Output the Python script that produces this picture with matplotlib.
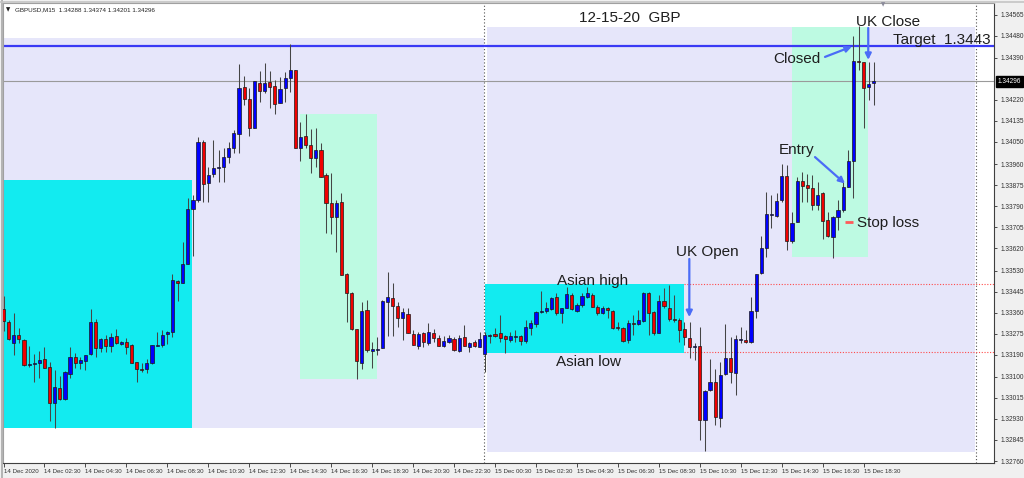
import numpy as np
import matplotlib.pyplot as plt
from matplotlib.patches import Rectangle

# GBPUSD M15 candles, 14 Dec 00:30 -> 15 Dec 18:30
open_ = [1.33373, 1.33322, 1.33236, 1.33271, 1.33249, 1.33149, 1.33151, 1.33158, 1.33172, 1.33140,
         1.32993, 1.33056, 1.33009, 1.33112, 1.33181, 1.33158, 1.33166, 1.33191, 1.33322, 1.33216,
         1.33252, 1.33226, 1.33265, 1.33234, 1.33242, 1.33229, 1.33159, 1.33133, 1.33133, 1.33155,
         1.33226, 1.33229, 1.33272, 1.33283, 1.33488, 1.33481, 1.33557, 1.33778, 1.33816, 1.34051,
         1.33883, 1.33919, 1.33946, 1.33949, 1.33991, 1.34025, 1.34082, 1.34273, 1.34225, 1.34108,
         1.34290, 1.34258, 1.34293, 1.34277, 1.34209, 1.34267, 1.34309, 1.34340, 1.34025, 1.34076,
         1.34037, 1.33987, 1.34017, 1.33917, 1.33803, 1.33747, 1.33806, 1.33516, 1.33439, 1.33293,
         1.33158, 1.33371, 1.33206, 1.33210, 1.33216, 1.33404, 1.33420, 1.33388, 1.33337, 1.33356,
         1.33274, 1.33225, 1.33276, 1.33238, 1.33278, 1.33256, 1.33225, 1.33240, 1.33253, 1.33206,
         1.33260, 1.33222, 1.33240, 1.33222, 1.33193, 1.33264, 1.33274, 1.33279, 1.33265, 1.33249,
         1.33261, 1.33265, 1.33246, 1.33299, 1.33314, 1.33361, 1.33367, 1.33373, 1.33422, 1.33357,
         1.33380, 1.33431, 1.33368, 1.33391, 1.33422, 1.33431, 1.33384, 1.33357, 1.33378, 1.33367,
         1.33302, 1.33297, 1.33249, 1.33317, 1.33313, 1.33327, 1.33441, 1.33364, 1.33279, 1.33408,
         1.33380, 1.33334, 1.33330, 1.33293, 1.33256, 1.33221, 1.33225, 1.32926, 1.33047, 1.33081,
         1.32933, 1.33112, 1.33175, 1.33117, 1.33249, 1.33249, 1.33240, 1.33368, 1.33519, 1.33620,
         1.33755, 1.33751, 1.33816, 1.33913, 1.33650, 1.33728, 1.33892, 1.33876, 1.33863, 1.33795,
         1.33843, 1.33735, 1.33667, 1.33748, 1.33775, 1.33869, 1.33974, 1.34378, 1.34372, 1.34271,
         1.34288]
high = [1.33427, 1.33330, 1.33360, 1.33297, 1.33253, 1.33225, 1.33191, 1.33205, 1.33222, 1.33162,
        1.33128, 1.33104, 1.33124, 1.33222, 1.33198, 1.33179, 1.33189, 1.33375, 1.33334, 1.33257,
        1.33270, 1.33276, 1.33293, 1.33246, 1.33256, 1.33233, 1.33160, 1.33158, 1.33172, 1.33231,
        1.33280, 1.33289, 1.33286, 1.33515, 1.33492, 1.33647, 1.33822, 1.33836, 1.34072, 1.34058,
        1.33950, 1.34058, 1.34018, 1.34025, 1.34049, 1.34099, 1.34366, 1.34317, 1.34267, 1.34297,
        1.34338, 1.34368, 1.34338, 1.34301, 1.34314, 1.34334, 1.34446, 1.34341, 1.34132, 1.34163,
        1.34101, 1.34107, 1.34045, 1.33924, 1.33924, 1.33816, 1.33845, 1.33519, 1.33445, 1.33294,
        1.33404, 1.33411, 1.33240, 1.33263, 1.33411, 1.33526, 1.33479, 1.33404, 1.33378, 1.33378,
        1.33290, 1.33283, 1.33283, 1.33317, 1.33293, 1.33270, 1.33265, 1.33270, 1.33263, 1.33270,
        1.33310, 1.33242, 1.33249, 1.33283, 1.33283, 1.33274, 1.33297, 1.33350, 1.33270, 1.33283,
        1.33290, 1.33270, 1.33330, 1.33330, 1.33368, 1.33449, 1.33404, 1.33424, 1.33438, 1.33379,
        1.33465, 1.33438, 1.33398, 1.33438, 1.33462, 1.33438, 1.33391, 1.33387, 1.33382, 1.33371,
        1.33323, 1.33303, 1.33330, 1.33350, 1.33371, 1.33445, 1.33445, 1.33365, 1.33431, 1.33458,
        1.33472, 1.33431, 1.33337, 1.33323, 1.33323, 1.33236, 1.33301, 1.33047, 1.33171, 1.33131,
        1.33162, 1.33313, 1.33263, 1.33270, 1.33301, 1.33290, 1.33424, 1.33518, 1.33670, 1.33849,
        1.33836, 1.33843, 1.33960, 1.33957, 1.33768, 1.33910, 1.33928, 1.33919, 1.33917, 1.33890,
        1.33847, 1.33768, 1.33749, 1.33816, 1.33890, 1.34018, 1.34480, 1.34519, 1.34374, 1.34375,
        1.34374]
low = [1.33287, 1.33249, 1.33189, 1.33238, 1.33144, 1.33141, 1.33078, 1.33097, 1.33135, 1.32923,
       1.32892, 1.33007, 1.33007, 1.33094, 1.33137, 1.33132, 1.33128, 1.33189, 1.33182, 1.33202,
       1.33202, 1.33202, 1.33233, 1.33229, 1.33191, 1.33155, 1.33081, 1.33119, 1.33115, 1.33154,
       1.33225, 1.33220, 1.33233, 1.33260, 1.33408, 1.33480, 1.33555, 1.33589, 1.33809, 1.33809,
       1.33809, 1.33910, 1.33890, 1.33890, 1.33964, 1.34004, 1.34004, 1.34200, 1.34076, 1.34107,
       1.34213, 1.34247, 1.34189, 1.34163, 1.34207, 1.34213, 1.34254, 1.34024, 1.33974, 1.34025,
       1.33924, 1.33948, 1.33909, 1.33681, 1.33677, 1.33606, 1.33511, 1.33323, 1.33290, 1.33090,
       1.33131, 1.33202, 1.33137, 1.33189, 1.33215, 1.33265, 1.33265, 1.33303, 1.33249, 1.33276,
       1.33228, 1.33212, 1.33222, 1.33229, 1.33242, 1.33225, 1.33222, 1.33236, 1.33206, 1.33202,
       1.33225, 1.33200, 1.33222, 1.33221, 1.33121, 1.33236, 1.33263, 1.33242, 1.33195, 1.33242,
       1.33242, 1.33229, 1.33236, 1.33270, 1.33303, 1.33357, 1.33357, 1.33371, 1.33350, 1.33317,
       1.33378, 1.33371, 1.33364, 1.33384, 1.33418, 1.33382, 1.33350, 1.33354, 1.33337, 1.33295,
       1.33290, 1.33242, 1.33238, 1.33270, 1.33310, 1.33323, 1.33270, 1.33270, 1.33276, 1.33378,
       1.33327, 1.33323, 1.33242, 1.33229, 1.33177, 1.33168, 1.32845, 1.32800, 1.33045, 1.32906,
       1.32896, 1.33108, 1.33074, 1.33027, 1.33236, 1.33236, 1.33239, 1.33337, 1.33518, 1.33586,
       1.33701, 1.33748, 1.33809, 1.33613, 1.33640, 1.33727, 1.33809, 1.33809, 1.33775, 1.33775,
       1.33658, 1.33667, 1.33582, 1.33694, 1.33768, 1.33868, 1.33825, 1.34341, 1.34106, 1.34220,
       1.34201]
close = [1.33327, 1.33252, 1.33270, 1.33252, 1.33148, 1.33153, 1.33158, 1.33170, 1.33137, 1.32996,
         1.33059, 1.33011, 1.33120, 1.33179, 1.33158, 1.33168, 1.33187, 1.33321, 1.33216, 1.33255,
         1.33226, 1.33263, 1.33236, 1.33242, 1.33222, 1.33158, 1.33131, 1.33128, 1.33155, 1.33229,
         1.33230, 1.33270, 1.33282, 1.33492, 1.33479, 1.33555, 1.33778, 1.33816, 1.34051, 1.33880,
         1.33918, 1.33946, 1.33949, 1.33991, 1.34025, 1.34085, 1.34270, 1.34223, 1.34108, 1.34296,
         1.34256, 1.34290, 1.34274, 1.34205, 1.34264, 1.34309, 1.34340, 1.34025, 1.34072, 1.34038,
         1.33985, 1.34019, 1.33910, 1.33805, 1.33747, 1.33803, 1.33512, 1.33438, 1.33293, 1.33164,
         1.33368, 1.33209, 1.33212, 1.33213, 1.33408, 1.33423, 1.33388, 1.33337, 1.33361, 1.33279,
         1.33229, 1.33274, 1.33242, 1.33282, 1.33259, 1.33226, 1.33245, 1.33256, 1.33209, 1.33256,
         1.33226, 1.33236, 1.33226, 1.33252, 1.33268, 1.33268, 1.33267, 1.33259, 1.33255, 1.33267,
         1.33264, 1.33246, 1.33301, 1.33319, 1.33364, 1.33367, 1.33378, 1.33418, 1.33357, 1.33378,
         1.33434, 1.33373, 1.33391, 1.33427, 1.33438, 1.33384, 1.33360, 1.33380, 1.33371, 1.33297,
         1.33299, 1.33246, 1.33319, 1.33313, 1.33330, 1.33441, 1.33360, 1.33276, 1.33408, 1.33386,
         1.33333, 1.33329, 1.33290, 1.33260, 1.33222, 1.33226, 1.32926, 1.33044, 1.33081, 1.32939,
         1.33108, 1.33178, 1.33119, 1.33253, 1.33252, 1.33241, 1.33367, 1.33516, 1.33620, 1.33758,
         1.33758, 1.33811, 1.33913, 1.33650, 1.33724, 1.33892, 1.33873, 1.33865, 1.33795, 1.33836,
         1.33731, 1.33671, 1.33748, 1.33775, 1.33869, 1.33973, 1.34378, 1.34374, 1.34270, 1.34285,
         1.34296]

y_ticks = [1.34565, 1.34480, 1.34390, 1.34220, 1.34135, 1.34050, 1.33960, 1.33875, 1.33790,
           1.33705, 1.33620, 1.33530, 1.33445, 1.33360, 1.33275, 1.33190, 1.33100, 1.33015,
           1.32930, 1.32845, 1.32760]
x_labels = ['14 Dec 2020', '14 Dec 02:30', '14 Dec 04:30', '14 Dec 06:30', '14 Dec 08:30',
            '14 Dec 10:30', '14 Dec 12:30', '14 Dec 14:30', '14 Dec 16:30', '14 Dec 18:30',
            '14 Dec 20:30', '14 Dec 22:30', '15 Dec 00:30', '15 Dec 02:30', '15 Dec 04:30',
            '15 Dec 06:30', '15 Dec 08:30', '15 Dec 10:30', '15 Dec 12:30', '15 Dec 14:30',
            '15 Dec 16:30', '15 Dec 18:30']

target = 1.34438
bid = 1.34296
asian_high = 1.33475
asian_low = 1.33202
stop_loss = 1.33728

FONT = ['Liberation Sans', 'DejaVu Sans']
plt.rcParams['font.family'] = FONT

o = np.array(open_)
c = np.array(close)
x = np.arange(len(o))
up = c >= o

fig = plt.figure(figsize=(10.24, 4.78), dpi=100, facecolor='#f0f0f0')
ax = fig.add_axes([3 / 1024, 15 / 478, 991 / 1024, 460 / 478])
ax.set_facecolor('white')
ax.set_xlim(-0.1, 193.46)
ax.set_ylim(1.32752, 1.34612)

# window frame (gray border top/left)
fig.add_artist(plt.Line2D([1.5 / 1024, 1.5 / 1024], [0, 1], color='#a8a8a8', lw=1.2))
fig.add_artist(plt.Line2D([0, 1], [1 - 1.5 / 478, 1 - 1.5 / 478], color='#c4c4c4', lw=1.2))

# zones drawn on the chart (time index / price)
zones = [
    (-0.1, 93.85, 1.32893, 1.34471, '#e6e6fa'),
    (94.43, 189.75, 1.32796, 1.34515, '#e6e6fa'),
    (-0.1, 36.9, 1.32893, 1.33896, '#12ebf0'),
    (57.9, 72.9, 1.33092, 1.34163, '#bdfae2'),
    (93.98, 132.9, asian_low - 0.00004, asian_high, '#12ebf0'),
    (153.95, 168.9, 1.33586, 1.34516, '#bdfae2'),
]
for x0, x1, y0, y1, col in zones:
    ax.add_patch(Rectangle((x0, y0), x1 - x0, y1 - y0, facecolor=col, edgecolor='none', zorder=0))

# separators / levels
for xv in [93.85, 189.94]:
    ax.axvline(xv, color='#505050', lw=0.8, ls=(0, (1, 2)), zorder=1)
ax.axhline(target, color='#3a3af5', lw=1.6, zorder=1)
ax.axhline(bid, color='#9a9a9a', lw=0.8, zorder=1)
ax.hlines([asian_high, asian_low], 132.9, 193.46, colors='#ff4a4a', lw=0.8,
          linestyles=(0, (1, 1.5)), zorder=1)

# candles
ax.vlines(x, low, high, color='#454545', lw=0.75, zorder=2)
body_h = np.maximum(np.abs(c - o), 0.000012)
ax.bar(x, body_h, bottom=np.minimum(o, c), width=0.62,
       color=np.where(up, '#0000ff', '#f00000'), edgecolor='#1a1a1a', linewidth=0.5, zorder=3)

# labels and arrows
tc = '#1e1e1e'
fs = 11
ax.text(112.4, 1.34535, '12-15-20  GBP', fontsize=fs, color=tc)
ax.text(166.5, 1.34519, 'UK Close', fontsize=fs, color=tc)
ax.text(173.7, 1.34446, 'Target  1.3443', fontsize=fs, color=tc)
ax.text(150.3, 1.34371, 'Closed', fontsize=fs, color=tc)
ax.text(151.5, 1.34002, 'Entry', fontsize=fs, color=tc)
ax.text(166.7, 1.33706, 'Stop loss', fontsize=fs, color=tc)
ax.text(131.3, 1.33589, 'UK Open', fontsize=fs, color=tc)
ax.text(108.1, 1.33470, 'Asian high', fontsize=fs, color=tc)
ax.text(107.9, 1.33144, 'Asian low', fontsize=fs, color=tc)

ac = '#4a6cf7'
arrows = [((165.7, 1.34436), (160.45, 1.34394)),
          ((168.9, 1.34382), (168.9, 1.34511)),
          ((164.35, 1.33882), (158.5, 1.33989)),
          ((133.95, 1.33342), (133.95, 1.33577))]
for tip, tail in arrows:
    ax.annotate('', xy=tip, xytext=tail,
                arrowprops=dict(arrowstyle='-|>', color=ac, lw=1.6, mutation_scale=9,
                                shrinkA=0, shrinkB=0))
ax.hlines(stop_loss, 164.35, 165.9, colors='#ff5a5a', lw=2)

# axes styling
ax.yaxis.tick_right()
ax.set_yticks(y_ticks, [f'{v:.5f}' for v in y_ticks])
ax.set_xticks(np.arange(0, 169, 8), x_labels)
for lbl in ax.get_xticklabels():
    lbl.set_horizontalalignment('left')
ax.tick_params(axis='y', length=2.5, width=0.6, labelsize=4.7, pad=2, colors='#303030')
ax.tick_params(axis='x', length=3, width=0.6, labelsize=4.4, pad=1.5, colors='#303030')
for s in ['right', 'bottom']:
    ax.spines[s].set_color('#404040')
    ax.spines[s].set_linewidth(0.8)
for s in ['left', 'top']:
    ax.spines[s].set_color('#a0a0a0')
    ax.spines[s].set_linewidth(0.8)

ax.text(1.004, bid, f'{bid:.5f}', transform=ax.get_yaxis_transform(), fontsize=4.7,
        color='white', ha='left', va='center',
        bbox=dict(boxstyle='square,pad=0.3', fc='black', ec='black'))

fig.text(6 / 1024, 1 - 10 / 478, '\u25bc', fontsize=4, color='#202020', va='center',
         family='DejaVu Sans')
fig.text(15 / 1024, 1 - 10 / 478,
         f'GBPUSD,M15  {open_[-1]:.5f} {high[-1]:.5f} {low[-1]:.5f} {close[-1]:.5f}',
         fontsize=4.5, color='#202020', va='center')
fig.text(883 / 1024, 1 - 5 / 478, '\u25bc', fontsize=4, color='#8a8a9a', ha='center',
         va='center', family='DejaVu Sans')

fig.savefig('out.png', dpi=100, facecolor=fig.get_facecolor())
